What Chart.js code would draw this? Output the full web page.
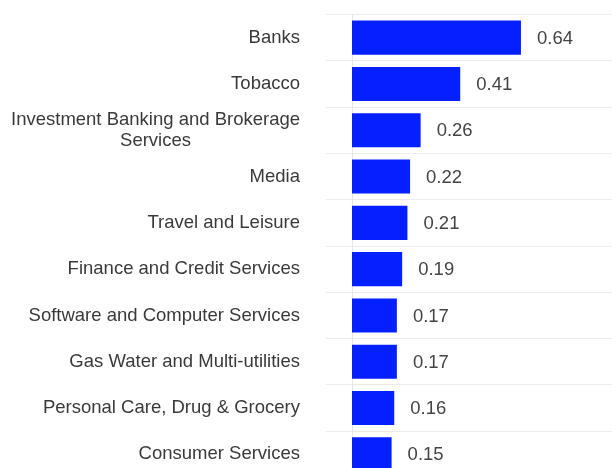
<!DOCTYPE html>
<html>
<head>
<meta charset="utf-8">
<script src="https://cdn.jsdelivr.net/npm/chart.js@4/dist/chart.umd.min.js"></script>
<style>
  html, body { margin: 0; padding: 0; background: #fff; overflow: hidden; }
  #wrap { width: 616px; height: 480px; position: relative; }
</style>
</head>
<body>
<div id="wrap"><canvas id="chart"></canvas></div>
<script>
// categories and values
const categories = [
    'Banks',
    'Tobacco',
    ['Investment Banking and Brokerage', 'Services'],
    'Media',
    'Travel and Leisure',
    'Finance and Credit Services',
    'Software and Computer Services',
    'Gas Water and Multi-utilities',
    'Personal Care, Drug & Grocery',
    'Consumer Services'
];
const values = [0.64, 0.41, 0.26, 0.22, 0.21, 0.19, 0.17, 0.17, 0.16, 0.15];
const valueLabels = ['0.64', '0.41', '0.26', '0.22', '0.21', '0.19', '0.17', '0.17', '0.16', '0.15'];

const FONT = "18.5px 'Liberation Sans', Arial, sans-serif";

// y labels drawn by hand so the wrapped one is centred like the original
const labelPlugin = {
    id: 'labels',
    afterDraw(chart) {
        const ctx = chart.ctx;
        const yScale = chart.scales.y;
        ctx.save();
        ctx.font = FONT;
        ctx.fillStyle = '#3a3a3a';
        ctx.textBaseline = 'middle';
        categories.forEach((lab, i) => {
            const y = yScale.getPixelForValue(i);
            if (Array.isArray(lab)) {
                const widest = Math.max(...lab.map(l => ctx.measureText(l).width));
                ctx.textAlign = 'center';
                const lh = 21;
                const y0 = y - (lab.length - 1) * lh / 2;
                lab.forEach((l, j) => ctx.fillText(l, 300 - widest / 2, y0 + j * lh));
            } else {
                ctx.textAlign = 'right';
                ctx.fillText(lab, 300, y);
            }
        });

        // value labels to the right of each bar
        ctx.fillStyle = '#444';
        ctx.textAlign = 'left';
        chart.getDatasetMeta(0).data.forEach((bar, i) => {
            ctx.fillText(valueLabels[i], bar.x + 16, bar.y + 1);
        });
        ctx.restore();
    }
};

new Chart(document.getElementById('chart'), {
    type: 'bar',
    data: {
        labels: categories,
        datasets: [{
            data: values,
            backgroundColor: '#0520ff',
            borderWidth: 0,
            barPercentage: 0.92,
            categoryPercentage: 0.8
        }]
    },
    options: {
        indexAxis: 'y',
        responsive: true,
        maintainAspectRatio: false,
        animation: false,
        layout: { padding: { top: 14.5, bottom: 2.5, right: 0, left: 0 } },
        plugins: {
            legend: { display: false },
            tooltip: { enabled: false }
        },
        scales: {
            x: {
                display: false,
                min: 0,
                max: 1
            },
            y: {
                ticks: { display: false },
                grid: {
                    color: '#ececec',
                    lineWidth: 1,
                    tickLength: 26,
                    offset: true
                },
                border: { display: true, color: '#e6e6e6' },
                afterFit(scale) { scale.width = 352; }
            }
        }
    },
    plugins: [labelPlugin]
});
</script>
</body>
</html>
